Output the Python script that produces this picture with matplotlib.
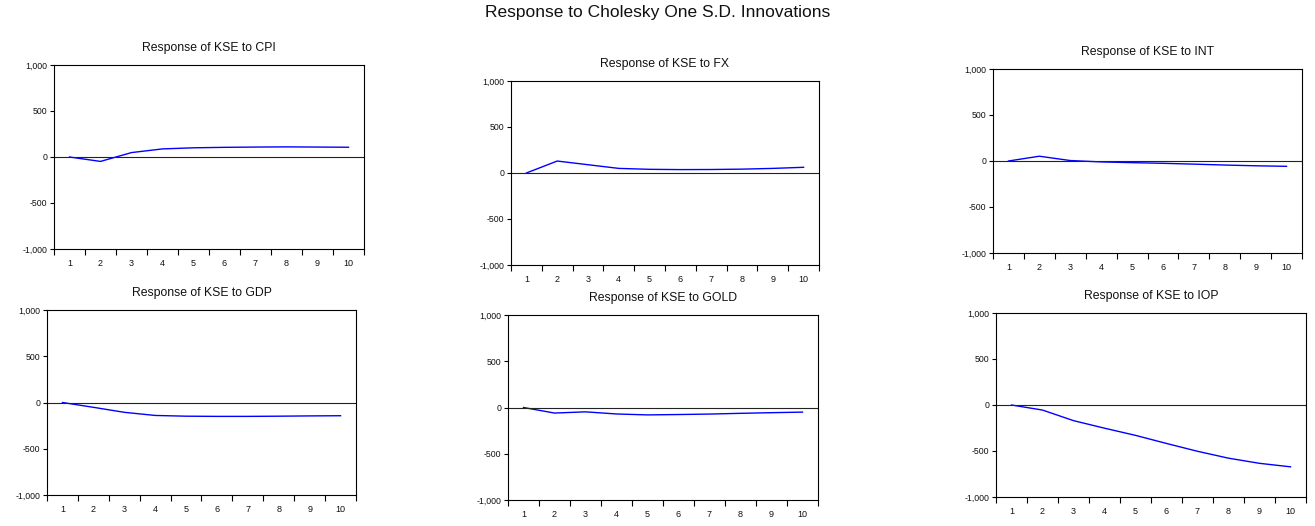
import matplotlib
matplotlib.use('Agg')
import matplotlib.pyplot as plt

# --- impulse response values (periods 1..10) ---
periods = [1, 2, 3, 4, 5, 6, 7, 8, 9, 10]
resp_cpi = [0, -48, 48, 88, 100, 105, 108, 110, 108, 106]
resp_fx = [0, 130, 90, 50, 40, 37, 38, 42, 50, 62]
resp_int = [0, 52, 5, -10, -18, -25, -34, -44, -52, -58]
resp_gdp = [0, -52, -106, -140, -148, -150, -150, -148, -145, -143]
resp_gold = [0, -60, -47, -70, -80, -76, -71, -63, -56, -50]
resp_iop = [0, -55, -170, -252, -330, -418, -503, -578, -634, -672]

panel_names = ['CPI', 'FX', 'INT', 'GDP', 'GOLD', 'IOP']
panel_values = [resp_cpi, resp_fx, resp_int, resp_gdp, resp_gold, resp_iop]
y_ticks = [-1000, -500, 0, 500, 1000]
y_tick_labels = ['-1,000', '-500', '0', '500', '1,000']

W, H = 1315, 526
# axes boxes in pixels: left, top, right, bottom
boxes = [
    (54, 65, 364, 249),
    (511, 81, 819, 265),
    (993, 69, 1302, 253),
    (47, 310, 356, 495),
    (508, 315, 818, 500),
    (996, 313, 1306, 497),
]

plt.rcParams['font.family'] = ['Liberation Sans', 'DejaVu Sans']
fig = plt.figure(figsize=(W / 100, H / 100), dpi=100)
fig.text(0.5, 1 - 12 / H, 'Response to Cholesky One S.D. Innovations',
         ha='center', va='center', fontsize=12.5, color='#111111')

for name, vals, (l, t, r, b) in zip(panel_names, panel_values, boxes):
    ax = fig.add_axes([l / W, 1 - b / H, (r - l) / W, (b - t) / H])
    ax.plot(periods, vals, color='#0000ff', linewidth=1.0)
    ax.axhline(0, color='#222222', linewidth=0.8)
    ax.set_xlim(0.5, 10.5)
    ax.set_ylim(-1000, 1000)
    # EViews style: ticks between periods, labels centred on periods
    ax.set_xticks([p - 0.5 for p in periods] + [10.5])
    ax.set_xticklabels([])
    ax.set_xticks(periods, minor=True)
    ax.set_xticklabels([str(p) for p in periods], minor=True)
    ax.tick_params(axis='x', which='major', length=4, width=0.8, direction='out')
    ax.tick_params(axis='x', which='minor', length=0, labelsize=6.5, pad=7,
                   labelcolor='#111111')
    ax.set_yticks(y_ticks)
    ax.set_yticklabels(y_tick_labels)
    ax.tick_params(axis='y', length=3, width=0.8, labelsize=6.3, pad=2,
                   labelcolor='#111111')
    for s in ax.spines.values():
        s.set_linewidth(0.8)
    ax.set_title(f'Response of KSE to {name}', fontsize=8.8, pad=10,
                 color='#111111')

fig.savefig('out.png', dpi=100)
